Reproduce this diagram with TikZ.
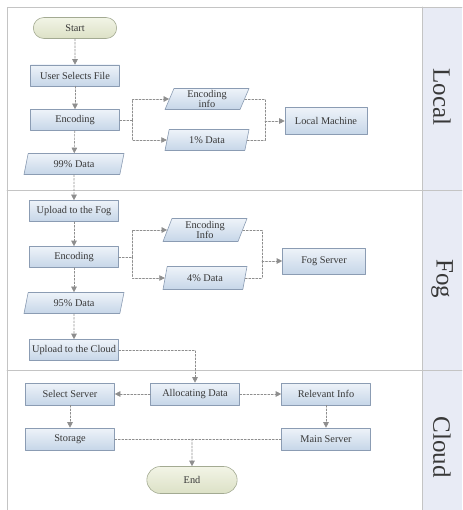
\documentclass[tikz,border=0pt]{standalone}
\usepackage{fontspec}
\setmainfont{Liberation Serif}
\usetikzlibrary{shapes.geometric,shapes.misc,arrows.meta}
\definecolor{boxtop}{HTML}{EEF3F9}
\definecolor{boxbot}{HTML}{C6D6E8}
\definecolor{boxline}{HTML}{8B9CB3}
\definecolor{termtop}{HTML}{F2F4E6}
\definecolor{termbot}{HTML}{DCE1C6}
\definecolor{termline}{HTML}{A3AA92}
\definecolor{laneline}{HTML}{C4C4C4}
\definecolor{lanefill}{HTML}{E8EBF5}
\definecolor{flow}{HTML}{8E8E8E}
\definecolor{txt}{HTML}{383838}
\begin{document}
\begin{tikzpicture}[x=1pt,y=-1pt,line cap=round,line join=round,
	proc/.style={draw=boxline,line width=0.6pt,top color=boxtop,bottom color=boxbot,minimum width=89pt,minimum height=21pt,inner sep=1pt,text=txt,font=\fontsize{10.3}{10}\selectfont},
	io/.style={trapezium,trapezium left angle=65,trapezium right angle=115,trapezium stretches body,draw=boxline,line width=0.6pt,top color=boxtop,bottom color=boxbot,minimum width=84pt,minimum height=21pt,inner sep=1pt,align=center,text=txt,font=\fontsize{10.3}{10}\selectfont},
	term/.style={rounded rectangle,draw=termline,line width=0.6pt,top color=termtop,bottom color=termbot,minimum height=21pt,text=txt,font=\fontsize{10.3}{10}\selectfont},
	flowline/.style={draw=flow,line width=0.6pt,dash pattern=on 2pt off 1.5pt},
	flowarr/.style={flowline,-{Triangle[length=5.5pt,width=5.5pt,fill=flow]}},
	lane/.style={rotate=-90,text=txt,font=\fontsize{25}{25}\selectfont}]
\useasboundingbox (0,0) rectangle (462,510);
% lanes
\fill[lanefill] (422,7) rectangle (462,510);
\draw[laneline,line width=0.8pt] (462,7) -- (7,7) -- (7,510);
\draw[laneline,line width=0.8pt] (7,190) -- (462,190) (7,370) -- (462,370) (422,7) -- (422,510);
\node[lane] (lnlocal) at (442,97) {Local};
\node[lane] (lnfog) at (442,279) {Fog};
\node[lane] (lncloud) at (442,447) {Cloud};
% local machine
\node[term,minimum width=90pt] (start) at (75,28) {Start};
\node[proc] (select) at (75,75.5) {User Selects File};
\node[proc] (enc1) at (75,120) {Encoding};
\node[io,minimum width=100pt] (data99) at (74,164) {99\% Data};
\node[io] (info1) at (207,99) {Encoding\\info};
\node[io] (data1) at (207,140) {1\% Data};
\node[proc,minimum width=82pt,minimum height=27pt] (local) at (326,121) {Local Machine};
\coordinate (j1) at (132,120);
\coordinate (j2) at (265,121);
% fog
\node[proc] (upfog) at (74,211) {Upload to the Fog};
\node[proc] (enc2) at (74,257) {Encoding};
\node[io,minimum height=23pt] (info2) at (205,230) {Encoding\\Info};
\node[io,minimum height=23pt] (data4) at (205,278) {4\% Data};
\node[proc,minimum width=83pt,minimum height=26pt] (fog) at (324,261) {Fog Server};
\node[io,minimum width=100pt] (data95) at (74,303) {95\% Data};
\node[proc] (upcloud) at (74,350) {Upload to the Cloud};
\coordinate (j3) at (132,257);
\coordinate (j4) at (262,261);
% cloud
\node[proc,minimum height=22pt] (alloc) at (195,394) {Allocating Data};
\node[proc,minimum height=22pt] (selsrv) at (70,394) {Select Server};
\node[proc,minimum height=22pt] (relinfo) at (326,394) {Relevant Info};
\node[proc,minimum height=22pt] (storage) at (70,439) {Storage};
\node[proc,minimum height=22pt] (mainsrv) at (326,439) {Main Server};
\node[term,minimum width=97pt,minimum height=27pt] (end) at (192,480) {End};
\coordinate (j5) at (end |- storage);
% flow
\draw[flowarr] (start) -- (select);
\draw[flowarr] (select) -- (enc1);
\draw[flowarr] (enc1) -- (data99);
\draw[flowline] (enc1) -- (j1);
\draw[flowarr] (j1) |- (info1);
\draw[flowarr] (j1) |- (data1);
\draw[flowline] (info1) -| (j2);
\draw[flowline] (data1) -| (j2);
\draw[flowarr] (j2) -- (local);
\draw[flowarr] (data99) -- (upfog);
\draw[flowarr] (upfog) -- (enc2);
\draw[flowarr] (enc2) -- (data95);
\draw[flowline] (enc2) -- (j3);
\draw[flowarr] (j3) |- (info2);
\draw[flowarr] (j3) |- (data4);
\draw[flowline] (info2) -| (j4);
\draw[flowline] (data4) -| (j4);
\draw[flowarr] (j4) -- (fog);
\draw[flowarr] (data95) -- (upcloud);
\draw[flowarr] (upcloud) -| (alloc);
\draw[flowarr] (alloc) -- (selsrv);
\draw[flowarr] (alloc) -- (relinfo);
\draw[flowarr] (selsrv) -- (storage);
\draw[flowarr] (relinfo) -- (mainsrv);
\draw[flowline] (storage) -- (mainsrv);
\draw[flowarr] (j5) -- (end);
\end{tikzpicture}
\end{document}
